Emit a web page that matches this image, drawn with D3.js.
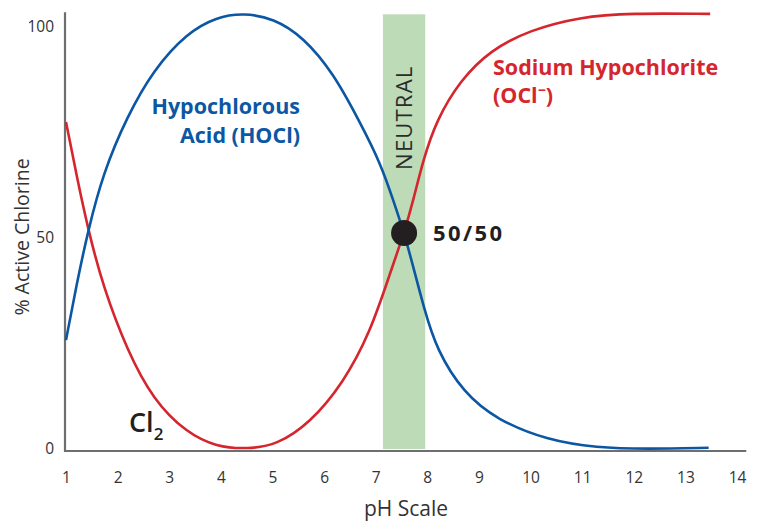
<!DOCTYPE html>
<html>
<head>
<meta charset="utf-8">
<script src="https://cdn.jsdelivr.net/npm/d3@7"></script>
<style>
  body { margin: 0; background: #fff; }
  svg { display: block; font-family: "Open Sans", "Noto Sans", sans-serif; }
</style>
</head>
<body>
<svg id="chart" width="759" height="521"></svg>
<script>
// pH values on the x axis
const phTicks = [1, 2, 3, 4, 5, 6, 7, 8, 9, 10, 11, 12, 13, 14];
const pctTicks = [0, 50, 100];

// Hypochlorous acid (HOCl)
const hoclPh  = [1.00, 1.21, 1.43, 1.72, 2.18, 2.69, 3.34, 3.92, 4.44, 5.02, 5.60, 6.18, 6.70, 7.09, 7.34, 7.55, 7.73, 7.93, 8.18, 8.70, 9.35, 10.32, 11.28, 12.25, 13.45];
const hoclPct = [25.8, 39.3, 51.9, 65.4, 78.7, 89.8, 98.6, 102.4, 103.3, 102.1, 97.6, 89.1, 77.3, 67.8, 59.0, 51.2, 43.1, 33.6, 23.5, 13.3, 6.9, 2.1, 0.3, 0.0, 0.3];

// Cl2 on the left, sodium hypochlorite (OCl-) on the right
const oclPh  = [1.00, 1.21, 1.43, 1.72, 2.18, 2.69, 3.34, 3.92, 4.50, 5.08, 5.73, 6.37, 6.89, 7.28, 7.55, 7.73, 7.92, 8.18, 8.64, 9.22, 9.99, 10.96, 11.93, 13.48];
const oclPct = [77.5, 64.5, 51.9, 38.4, 23.5, 11.6, 3.8, 0.5, 0.0, 0.9, 6.2, 15.6, 27.5, 41.7, 51.2, 59.0, 68.5, 78.0, 87.4, 94.5, 99.3, 102.4, 103.3, 103.1];

const neutralPh = [7.14, 7.96];
const crossPh = 7.55, crossPct = 51.2;

const blue = "#0b57a4", red = "#d5262e", ink = "#231f20", axisGrey = "#6d6e71";

const svg = d3.select("#chart");

const x = d3.scaleLinear().domain([1, 14]).range([66, 737]);
const y = d3.scaleLinear().domain([0, 100]).range([449, 27]);

// neutral band
svg.append("rect")
    .attr("x", x(neutralPh[0]))
    .attr("width", x(neutralPh[1]) - x(neutralPh[0]))
    .attr("y", y(103))
    .attr("height", y(0) - y(103))
    .attr("fill", "#bddbb6");

svg.append("text")
    .attr("transform", `translate(${x(7.55) + 8},${y(78.5)}) rotate(-90)`)
    .attr("text-anchor", "middle")
    .attr("font-size", 22)
    .attr("fill", "#2b2b2b")
    .attr("letter-spacing", 1.2)
    .text("NEUTRAL");

// axes
const xAxis = svg.append("g")
    .attr("transform", `translate(0,${y(0) + 2})`)
    .call(d3.axisBottom(x).tickValues(phTicks).tickSize(0).tickPadding(21));
xAxis.select(".domain").remove();
xAxis.selectAll("text").attr("font-size", 15.5).attr("fill", "#333").attr("font-family", "Open Sans");

const yAxis = svg.append("g")
    .attr("transform", `translate(${x(1) - 1},0)`)
    .call(d3.axisLeft(y).tickValues(pctTicks).tickSize(0).tickPadding(11));
yAxis.select(".domain").remove();
yAxis.selectAll("text").attr("font-size", 15.5).attr("fill", "#333").attr("font-family", "Open Sans");

svg.append("line")
    .attr("x1", x(1) - 1).attr("x2", x(1) - 1)
    .attr("y1", y(103.5)).attr("y2", y(0) + 3)
    .attr("stroke", axisGrey).attr("stroke-width", 2.2);
svg.append("line")
    .attr("x1", x(1) - 2).attr("x2", x(14.18))
    .attr("y1", y(0) + 2).attr("y2", y(0) + 2)
    .attr("stroke", axisGrey).attr("stroke-width", 2.2);

// curves
const line = d3.line()
    .x(d => x(d[0]))
    .y(d => y(d[1]))
    .curve(d3.curveBasis);

svg.append("path")
    .datum(d3.zip(oclPh, oclPct))
    .attr("d", line)
    .attr("fill", "none")
    .attr("stroke", red)
    .attr("stroke-width", 2.6);

svg.append("path")
    .datum(d3.zip(hoclPh, hoclPct))
    .attr("d", line)
    .attr("fill", "none")
    .attr("stroke", blue)
    .attr("stroke-width", 2.6);

// 50/50 point
svg.append("circle")
    .attr("cx", x(crossPh))
    .attr("cy", y(crossPct))
    .attr("r", 13)
    .attr("fill", ink);

svg.append("text")
    .attr("x", x(crossPh) + 29)
    .attr("y", y(crossPct) + 8)
    .attr("font-size", 22)
    .attr("font-weight", 700)
    .attr("letter-spacing", 2.4)
    .attr("fill", ink)
    .text("50/50");

// series labels
const hocl = svg.append("text")
    .attr("text-anchor", "end")
    .attr("font-size", 21.5)
    .attr("font-weight", 700)
    .attr("fill", blue);
hocl.append("tspan").attr("x", 300).attr("y", 114).text("Hypochlorous");
hocl.append("tspan").attr("x", 300).attr("y", 143).text("Acid (HOCl)");

const ocl = svg.append("text")
    .attr("font-size", 21.5)
    .attr("font-weight", 700)
    .attr("fill", red);
ocl.append("tspan").attr("x", 493).attr("y", 75).text("Sodium Hypochlorite");
ocl.append("tspan").attr("x", 493).attr("y", 103).text("(OCl");
ocl.append("tspan").attr("dy", -8).attr("font-size", 14).text("−");
ocl.append("tspan").attr("dy", 8).text(")");

const cl2 = svg.append("text")
    .attr("x", 129)
    .attr("y", 432)
    .attr("font-size", 27)
    .attr("font-weight", 600)
    .attr("fill", ink);
cl2.append("tspan").text("Cl");
cl2.append("tspan").attr("dy", 8).attr("font-size", 17).text("2");

// axis titles
svg.append("text")
    .attr("transform", `translate(29,${y(50) - 1}) rotate(-90)`)
    .attr("text-anchor", "middle")
    .attr("font-size", 19.5)
    .attr("fill", "#333")
    .text("% Active Chlorine");

svg.append("text")
    .attr("x", 406)
    .attr("y", 516)
    .attr("text-anchor", "middle")
    .attr("font-size", 21)
    .attr("fill", "#333")
    .text("pH Scale");
</script>
</body>
</html>
